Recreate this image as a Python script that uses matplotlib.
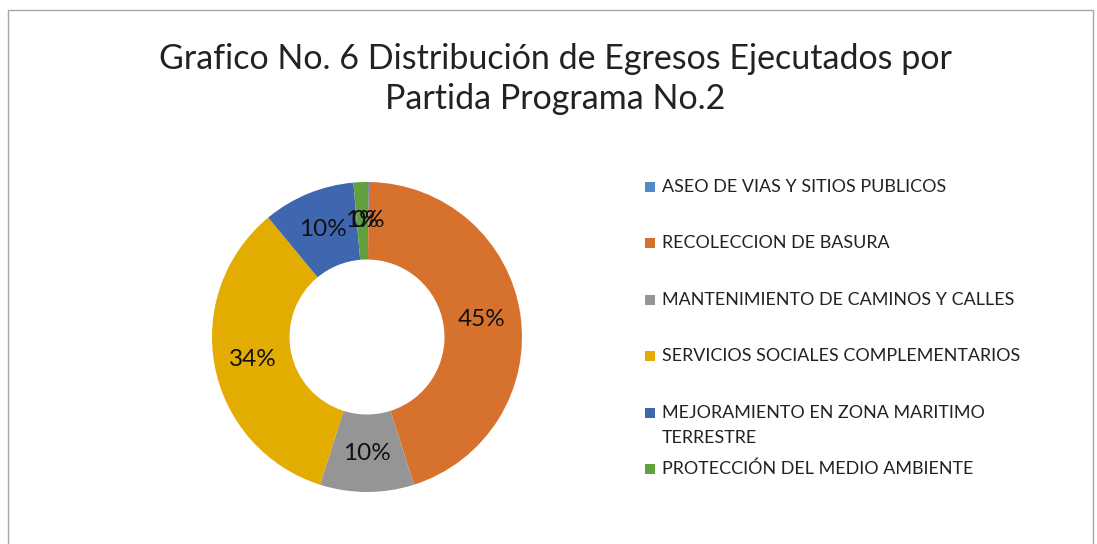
#!/usr/bin/env python3
import matplotlib
matplotlib.use("Agg")
import matplotlib.pyplot as plt
from matplotlib.patches import Rectangle

plt.rcParams['font.family'] = ['Lato', 'DejaVu Sans']

# partidas del programa No.2 (porcentaje del egreso ejecutado)
categories = [
    "ASEO DE VIAS Y SITIOS PUBLICOS",
    "RECOLECCION DE BASURA",
    "MANTENIMIENTO DE CAMINOS Y CALLES",
    "SERVICIOS SOCIALES COMPLEMENTARIOS",
    "MEJORAMIENTO EN ZONA MARITIMO\nTERRESTRE",
    "PROTECCIÓN DEL MEDIO AMBIENTE",
]
shares = [0.2, 44.9, 9.8, 34.1, 9.6, 1.4]
colors = ['#4E8AC4', '#D7712E', '#959595', '#E3AC00', '#3F67B0', '#62A03D']

W, H = 1097, 544
fig = plt.figure(figsize=(W / 100, H / 100), dpi=100)

# chart frame (bottom edge is cut off in the original)
fig.add_artist(Rectangle((8 / W, -0.05), (1093 - 8) / W, 1.05 - 10 / H,
                         transform=fig.transFigure, fill=False,
                         edgecolor='#A6A6A6', linewidth=1))

fig.text(555 / W, 1 - 79 / H, "Grafico No. 6 Distribución de Egresos Ejecutados por\nPartida Programa No.2",
         ha='center', va='center', fontsize=24.5, linespacing=1.33, color='#222222')

# donut
cx, cy, r = 367, 337, 155
ax = fig.add_axes([(cx - r) / W, (H - cy - r) / H, 2 * r / W, 2 * r / H])
wedges, texts, autotexts = ax.pie(
    shares, colors=colors, startangle=90, counterclock=False,
    radius=1, wedgeprops=dict(width=0.5, linewidth=0),
    autopct='%.0f%%', pctdistance=0.75,
    textprops=dict(fontsize=17.5, color='#111111'))
ax.set_xlim(-1, 1)
ax.set_ylim(-1, 1)
ax.axis('off')

# legend, drawn by hand to keep Excel's even spacing
lx, ly0, step = 645, 187, 56.4
for i, (lab, col) in enumerate(zip(categories, colors)):
    y = ly0 + i * step
    fig.add_artist(Rectangle((lx / W, 1 - (y + 5) / H), 10 / W, 10 / H,
                             transform=fig.transFigure, facecolor=col, edgecolor='none'))
    fig.text((lx + 17) / W, 1 - (y - 8) / H, lab, ha='left', va='top',
             fontsize=12.9, linespacing=1.75, color='#222222')

fig.savefig("out.png", dpi=100)
